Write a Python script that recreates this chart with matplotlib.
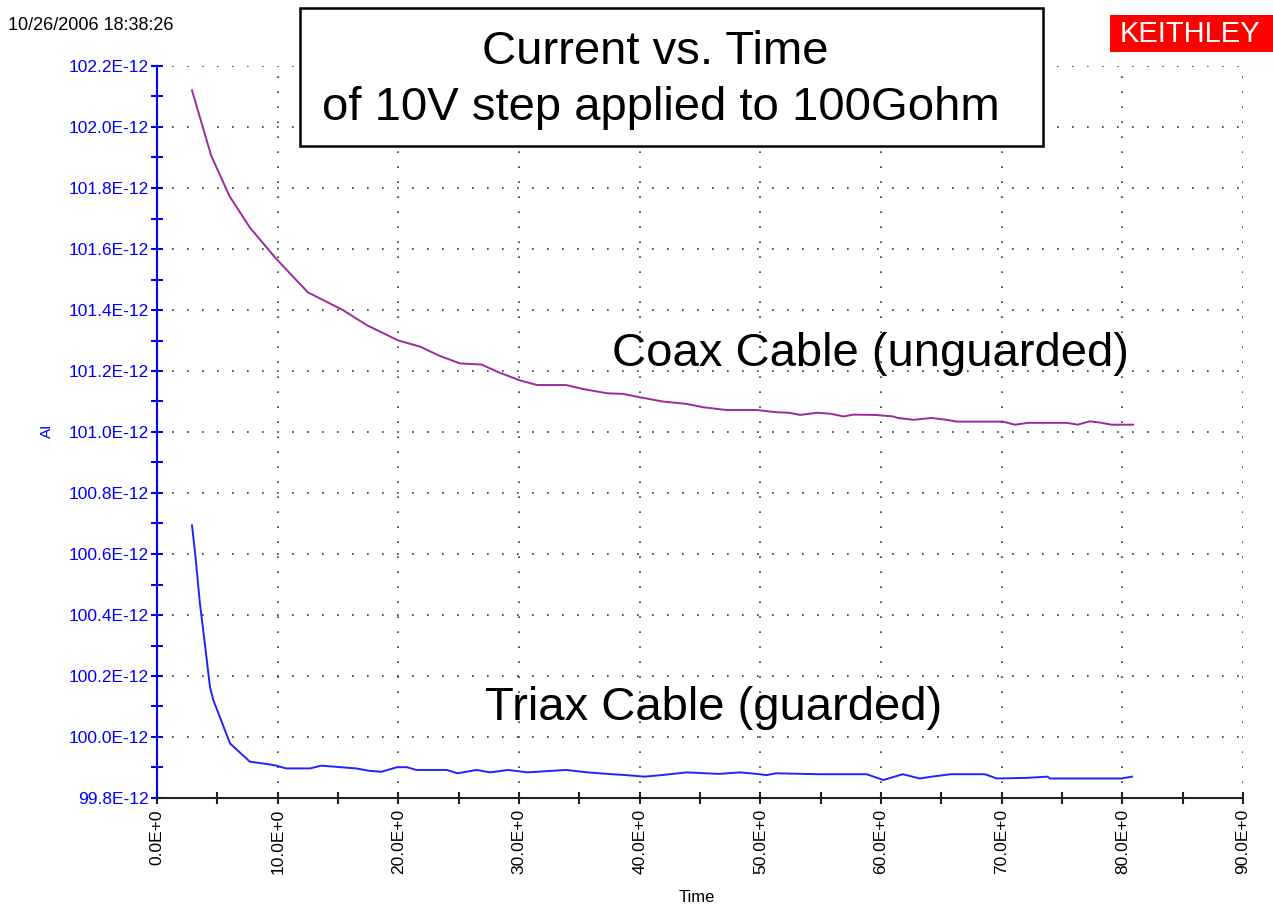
import matplotlib.pyplot as plt
from matplotlib.patches import Rectangle
from matplotlib.ticker import MultipleLocator, FuncFormatter
import numpy as np

# time in s, current in pA (axis labels show E-12)
coax_t = [2.9, 4.5, 6.0, 7.7, 9.9, 12.5, 15.4, 17.4, 20.0, 21.8, 23.4, 25.1, 26.9,
          28.3, 30.1, 31.5, 33.9, 35.3, 37.3, 38.6, 40.0, 41.9, 43.9, 45.3, 47.2,
          49.7, 51.3, 52.4, 53.3, 54.7, 55.8, 56.9, 57.7, 59.5, 61.0, 61.4, 62.7,
          64.2, 65.4, 66.3, 70.1, 71.1, 72.2, 75.4, 76.3, 77.3, 78.3, 79.1, 80.9]
coax_i = [102.12, 101.905, 101.774, 101.67, 101.567, 101.458, 101.40, 101.35, 101.30,
          101.28, 101.25, 101.225, 101.221, 101.196, 101.169, 101.154, 101.154,
          101.141, 101.127, 101.125, 101.114, 101.100, 101.092, 101.081, 101.072,
          101.072, 101.065, 101.063, 101.056, 101.063, 101.060, 101.051, 101.057,
          101.056, 101.051, 101.046, 101.040, 101.046, 101.040, 101.034, 101.034,
          101.024, 101.030, 101.030, 101.024, 101.035, 101.030, 101.024, 101.024]

triax_t = [2.9, 3.15, 3.56, 3.98, 4.39, 4.67, 6.05, 7.7, 9.2, 9.9, 10.7, 12.7, 13.6,
           14.9, 16.5, 17.6, 18.6, 19.9, 20.7, 21.5, 24.0, 24.9, 26.5, 27.6, 29.1,
           30.7, 33.9, 35.7, 37.3, 38.9, 40.4, 41.8, 43.9, 46.6, 48.3, 49.7, 50.5,
           51.3, 54.8, 58.8, 60.2, 61.8, 63.2, 64.2, 65.8, 68.6, 69.6, 72.1,
           73.8, 74.0, 79.9, 80.8]
triax_i = [100.694, 100.606, 100.437, 100.301, 100.164, 100.121, 99.979, 99.919,
           99.911, 99.906, 99.897, 99.897, 99.906, 99.902, 99.897, 99.889, 99.886,
           99.901, 99.901, 99.892, 99.892, 99.881, 99.892, 99.884, 99.892, 99.884,
           99.892, 99.884, 99.879, 99.875, 99.870, 99.875, 99.884, 99.879, 99.884,
           99.879, 99.875, 99.881, 99.878, 99.878, 99.859, 99.878, 99.864, 99.870,
           99.878, 99.878, 99.864, 99.866, 99.870, 99.864, 99.864, 99.870]

title_lines = ['Current vs. Time', 'of 10V step applied to 100Gohm']
timestamp = '10/26/2006 18:38:26'

plt.rcParams['font.family'] = ['Liberation Sans', 'DejaVu Sans']

fig = plt.figure(figsize=(12.73, 9.06), dpi=100)
ax = fig.add_axes([157 / 1273, 108 / 906, 1086 / 1273, 732 / 906])

ax.plot(coax_t, coax_i, color='#9b2a9b', lw=1.4)
ax.plot(triax_t, triax_i, color='#2222ff', lw=1.4)

ax.set_xlim(0, 90)
ax.set_ylim(99.8, 102.2)
ax.xaxis.set_major_locator(MultipleLocator(10))
ax.xaxis.set_minor_locator(MultipleLocator(5))
ax.yaxis.set_major_locator(MultipleLocator(0.2))
ax.yaxis.set_minor_locator(MultipleLocator(0.1))
ax.xaxis.set_major_formatter(FuncFormatter(lambda v, p: '%.1fE+0' % v))
ax.yaxis.set_major_formatter(FuncFormatter(lambda v, p: '%.1fE-12' % v))

for lab in ['top', 'right']:
    ax.spines[lab].set_visible(False)
ax.spines['left'].set_color('blue')
ax.spines['left'].set_linewidth(1.5)
ax.spines['bottom'].set_color('#222222')
ax.spines['bottom'].set_linewidth(1.5)

ax.tick_params(axis='y', which='both', direction='inout', color='blue', width=1.5,
               labelcolor='blue', labelsize=12.5, length=8, pad=2)
ax.tick_params(axis='x', which='both', direction='inout', color='#222222', width=1.5,
               labelsize=12.5, length=8, labelrotation=90, pad=4)

ax.grid(True, which='major', color='#333333', lw=1.2, ls=(0, (1, 8)))
ax.set_axisbelow(True)

fig.text(697 / 1273, 1 - 897 / 906, 'Time', fontsize=12, ha='center', va='center')
fig.text(47 / 1273, 1 - 431 / 906, 'AI', fontsize=11, color='blue', rotation=90,
         ha='center', va='center')

ax.text(59.1, 101.255, 'Coax Cable (unguarded)', fontsize=34, ha='center', va='center')
ax.text(46.1, 100.095, 'Triax Cable (guarded)', fontsize=34, ha='center', va='center')

# title box
fig.patches.append(Rectangle((300 / 1273, (906 - 146) / 906), 743 / 1273, 138 / 906,
                             transform=fig.transFigure, fill=True, facecolor='white',
                             edgecolor='black', lw=1.8, zorder=5))
fig.text(655 / 1273, 1 - 52 / 906, title_lines[0], fontsize=34, ha='center', va='center', zorder=6)
fig.text(661 / 1273, 1 - 108 / 906, title_lines[1], fontsize=34, ha='center', va='center', zorder=6)

# logo
fig.patches.append(Rectangle((1110 / 1273, 1 - 52 / 906), 163 / 1273, 37 / 906,
                             transform=fig.transFigure, facecolor='#ff0000',
                             edgecolor='none', zorder=5))
fig.text(1190 / 1273, 1 - 34 / 906, 'KEITHLEY', fontsize=21, color='white',
         ha='center', va='center', zorder=6)

fig.text(8 / 1273, 1 - 26 / 906, timestamp, fontsize=13, ha='left', va='center')

fig.savefig('out.png', dpi=100)
